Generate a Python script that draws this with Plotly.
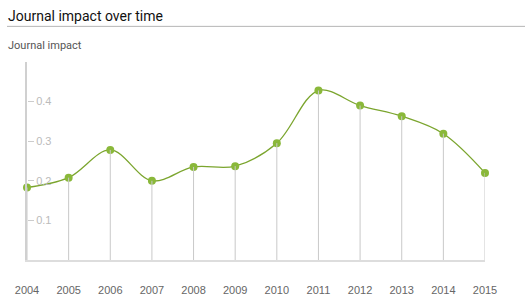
import plotly.graph_objects as go

years = [2004, 2005, 2006, 2007, 2008, 2009, 2010, 2011, 2012, 2013, 2014, 2015]
impact = [0.183, 0.208, 0.278, 0.200, 0.235, 0.237, 0.295, 0.428, 0.390, 0.363, 0.319, 0.220]
y_ticks = [0.1, 0.2, 0.3, 0.4]
title_text = "Journal impact over time"
subtitle_text = "Journal impact"

W, H = 525, 308
L, R, T, B = 27, 40, 62, 46
pw, ph = W - L - R, H - T - B

def px_x(px):
    return (px - L) / pw

def px_y(py):
    return (H - B - py) / ph

drop_x, drop_y = [], []
for yr, v in zip(years, impact):
    drop_x += [yr, yr, None]
    drop_y += [0, v, None]

fig = go.Figure()
fig.add_trace(go.Scatter(x=drop_x, y=drop_y, mode="lines", yaxis="y2",
                         line=dict(color="#c9c9c9", width=1), hoverinfo="skip",
                         showlegend=False))
fig.add_trace(go.Scatter(x=years, y=impact, mode="lines+markers", cliponaxis=False,
                         line=dict(color="#7ba52e", width=1.3, shape="spline", smoothing=1),
                         marker=dict(color="#8ab83a", size=8, line=dict(width=0)),
                         showlegend=False))

fig.update_layout(
    width=W, height=H,
    margin=dict(l=L, r=R, t=T, b=B),
    paper_bgcolor="white", plot_bgcolor="white",
    font=dict(family="Liberation Sans, Arial, sans-serif", color="#666"),
    xaxis=dict(range=[years[0], years[-1]], tickvals=years, ticktext=[str(y) for y in years],
               showgrid=False, zeroline=False, showline=True, linecolor="#dddddd", linewidth=2,
               ticks="", tickfont=dict(size=11, color="#666666"), ticklabelstandoff=19,
               fixedrange=True),
    yaxis=dict(range=[0, 0.5], showticklabels=False, ticks="",
               showgrid=False, zeroline=False, showline=True, linecolor="#d0d0d0", linewidth=2,
               fixedrange=True),
    yaxis2=dict(range=[0, 0.5], overlaying="y", side="right", anchor="free", position=0,
                tickvals=y_ticks, ticktext=[str(t) for t in y_ticks],
                showgrid=False, zeroline=False, showline=False,
                ticks="outside", ticklen=6, tickcolor="#cccccc", tickwidth=1,
                tickfont=dict(size=11, color="#bbbbbb"), fixedrange=True),
    shapes=[dict(type="line", xref="paper", yref="paper",
                 x0=px_x(7), x1=px_x(525), y0=px_y(26), y1=px_y(26),
                 line=dict(color="#b5b5b5", width=1))],
    annotations=[
        dict(text=title_text, xref="paper", yref="paper", x=px_x(6), y=px_y(16),
             xanchor="left", yanchor="middle", showarrow=False,
             font=dict(family="Roboto, sans-serif", size=14, color="#111")),
        dict(text=subtitle_text, xref="paper", yref="paper", x=px_x(6), y=px_y(45),
             xanchor="left", yanchor="middle", showarrow=False,
             font=dict(family="Roboto, sans-serif", size=11, color="#555")),
    ],
)

fig.write_html("out.html")
